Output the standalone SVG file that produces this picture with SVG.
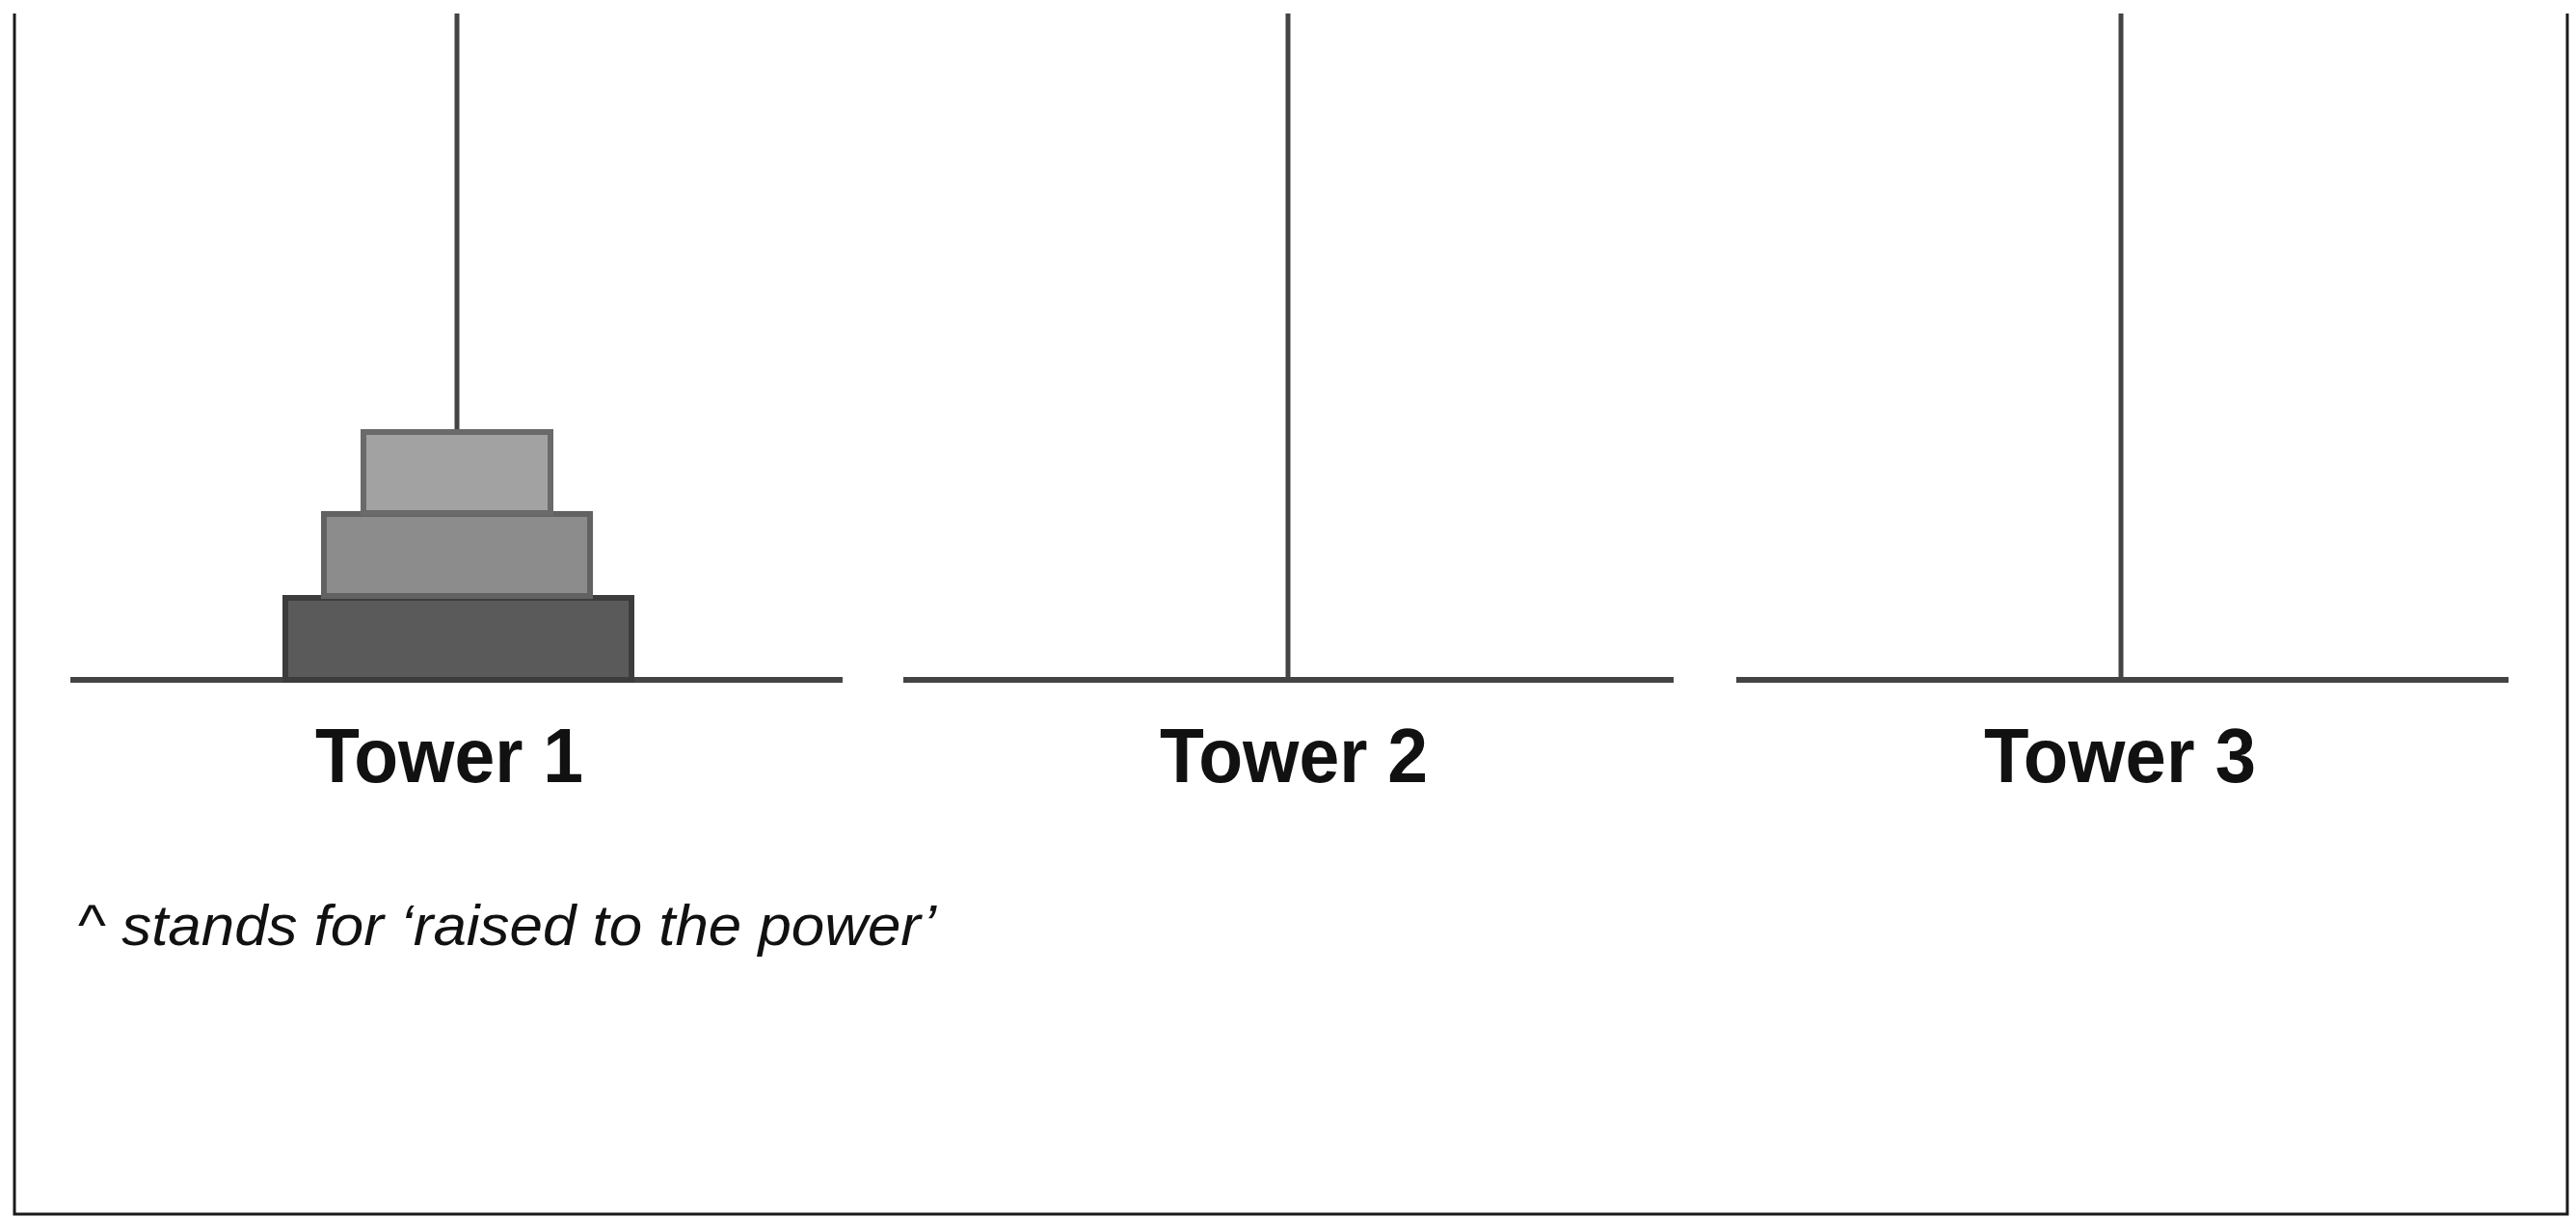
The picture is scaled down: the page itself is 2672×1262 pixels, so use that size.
<svg xmlns="http://www.w3.org/2000/svg" width="2672" height="1262" viewBox="0 0 2672 1262">
<style>
.frame{fill:none;stroke:#1a1a1a;stroke-width:3}
.peg{stroke:#444;stroke-width:5;fill:none}
.base{stroke:#444;stroke-width:6;fill:none}
.label{font-family:"Liberation Sans",Arial,sans-serif;font-weight:bold;font-size:80px;fill:#111;text-anchor:middle}
.note{font-family:"Liberation Sans",Arial,sans-serif;font-style:italic;font-size:60px;fill:#111}
.disk{stroke-width:6}
</style>
<rect width="2672" height="1262" fill="#fff"/>
<g id="frame">
<polyline class="frame" points="15,14 15,1259 2663,1259 2663,14"/>
</g>
<g id="tower1">
<line class="peg" x1="474" y1="14" x2="474" y2="445"/>
<line class="base" x1="73" y1="705" x2="874" y2="705"/>
<text class="label" x="466" y="811" textLength="278" lengthAdjust="spacingAndGlyphs">Tower 1</text>
</g>
<g id="disk3">
<rect class="disk" x="296" y="620" width="359" height="85" fill="#5a5a5a" stroke="#3c3c3c"/>
</g>
<g id="disk2">
<rect class="disk" x="336" y="533" width="276" height="85" fill="#8c8c8c" stroke="#626262"/>
</g>
<g id="disk1">
<rect class="disk" x="377" y="448" width="194" height="84" fill="#a2a2a2" stroke="#6a6a6a"/>
</g>
<g id="tower2">
<line class="peg" x1="1336" y1="14" x2="1336" y2="705"/>
<line class="base" x1="937" y1="705" x2="1736" y2="705"/>
<text class="label" x="1342" y="811" textLength="278" lengthAdjust="spacingAndGlyphs">Tower 2</text>
</g>
<g id="tower3">
<line class="peg" x1="2200" y1="14" x2="2200" y2="705"/>
<line class="base" x1="1801" y1="705" x2="2602" y2="705"/>
<text class="label" x="2199" y="811" textLength="282" lengthAdjust="spacingAndGlyphs">Tower 3</text>
</g>
<g id="connectors"></g>
<g id="note">
<text class="note" x="80" y="980" textLength="891" lengthAdjust="spacingAndGlyphs">^ stands for ‘raised to the power’</text>
</g>
</svg>
